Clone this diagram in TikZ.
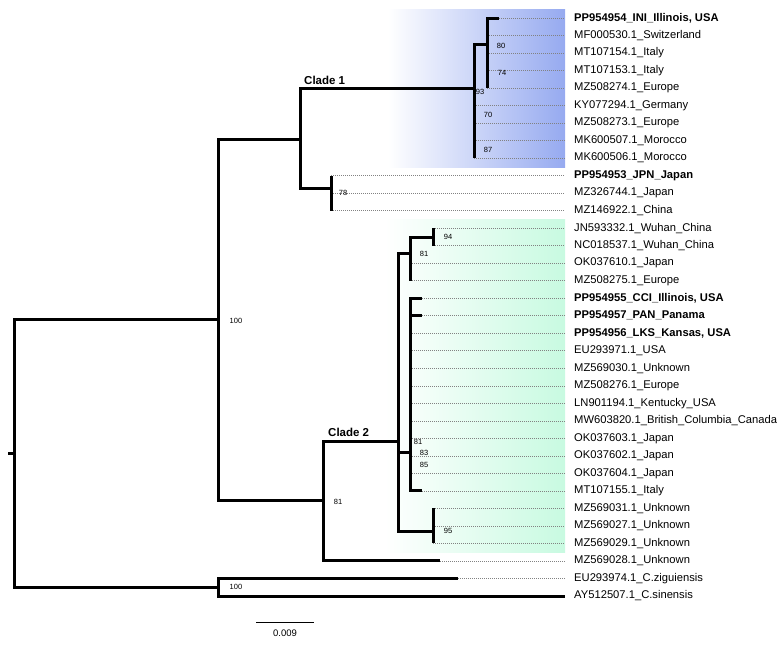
\documentclass[tikz,border=0pt]{standalone}
\usepackage{fontspec}
\setmainfont{Liberation Sans}
\definecolor{cladeblue}{RGB}{150,170,240}
\definecolor{cladegreen}{RGB}{200,250,225}
\definecolor{leadergray}{RGB}{130,130,130}
\tikzset{
  branch/.style={line width=3pt},
  leader/.style={leadergray, line width=0.6pt, dash pattern=on 1pt off 1pt, shorten >=9pt},
  tiplabel/.style={anchor=west, inner sep=0pt, font=\fontsize{11.2}{13}\selectfont},
  boot/.style={inner sep=0pt, font=\fontsize{7.5}{9}\selectfont},
  cladelabel/.style={anchor=west, inner sep=0pt, font=\fontsize{11.5}{13}\selectfont\bfseries}
}
\begin{document}
\begin{tikzpicture}[x=1pt, y=-1pt]
  \useasboundingbox (0,0) rectangle (781,646);
  % clade shading
  \shade[left color=white, right color=cladeblue]  (388,9)   rectangle (565,167);
  \shade[left color=white, right color=cladegreen] (385,219) rectangle (565,552);

  % tip labels
  \foreach \lab [count=\i] in {
      {\textbf{PP954954\_INI\_Illinois, USA}}, MF000530.1\_Switzerland,
      MT107154.1\_Italy, MT107153.1\_Italy, MZ508274.1\_Europe,
      KY077294.1\_Germany, MZ508273.1\_Europe, MK600507.1\_Morocco,
      MK600506.1\_Morocco, {\textbf{PP954953\_JPN\_Japan}}, MZ326744.1\_Japan,
      MZ146922.1\_China, JN593332.1\_Wuhan\_China, NC018537.1\_Wuhan\_China,
      OK037610.1\_Japan, MZ508275.1\_Europe, {\textbf{PP954955\_CCI\_Illinois, USA}},
      {\textbf{PP954957\_PAN\_Panama}}, {\textbf{PP954956\_LKS\_Kansas, USA}},
      EU293971.1\_USA, MZ569030.1\_Unknown, MZ508276.1\_Europe,
      LN901194.1\_Kentucky\_USA, MW603820.1\_British\_Columbia\_Canada,
      OK037603.1\_Japan, OK037602.1\_Japan, OK037604.1\_Japan, MT107155.1\_Italy,
      MZ569031.1\_Unknown, MZ569027.1\_Unknown, MZ569029.1\_Unknown,
      MZ569028.1\_Unknown, EU293974.1\_C.ziguiensis, AY512507.1\_C.sinensis}
    \node[tiplabel] (t\i) at (574,{18+17.515*(\i-1)}) {\lab};

  % branch ends of the tips
  \foreach \x [count=\i] in {499,487,487,487,487,474,474,474,474,331,331,331,
      433,433,410,410,422,422,410,410,410,410,410,410,410,410,410,422,
      433,433,433,440,458,565}
    \coordinate (e\i) at (\x,{18+17.515*(\i-1)});
  \foreach \i in {1,...,33}
    \draw[leader] (e\i) -- (t\i.west);

  % internal nodes
  \coordinate (r0)   at (8,453);
  \coordinate (r)    at (14,453);
  \coordinate (n100) at (218,319);
  \coordinate (cA)   at (300,139);
  \coordinate (c1)   at (474,88);
  \coordinate (c1a)  at (487,44);
  \coordinate (cJ)   at (331,188);
  \coordinate (c2)   at (323,500);
  \coordinate (c2a)  at (398,441);
  \coordinate (c2b)  at (410,253);
  \coordinate (c2c)  at (433,237);
  \coordinate (c2d)  at (410,452);
  \coordinate (c2e)  at (433,531);
  \coordinate (og)   at (218,587);

  % branches
  \draw[branch] (r0) -- (r);
  \draw[branch] (r) |- (n100);   \draw[branch] (r) |- (og);
  \draw[branch] (n100) |- (cA);  \draw[branch] (n100) |- (c2);
  \draw[branch] (cA) |- (c1);    \draw[branch] (cA) |- (cJ);
  \draw[branch] (c1) |- (c1a);   \draw[branch] (c1) |- (e9);
  \draw[branch] (c1a) |- (e1);   \draw[branch] (c1a) |- (e5);
  \draw[branch] (cJ) |- (e10);   \draw[branch] (cJ) |- (e12);
  \draw[branch] (c2) |- (c2a);   \draw[branch] (c2) |- (e32);
  \draw[branch] (c2a) |- (c2b);  \draw[branch] (c2a) |- (c2d);
  \draw[branch] (c2a) |- (c2e);
  \draw[branch] (c2b) |- (c2c);  \draw[branch] (c2b) |- (e16);
  \draw[branch] (c2c) |- (e13);  \draw[branch] (c2c) |- (e14);
  \draw[branch] (c2d) |- (e17);  \draw[branch] (c2d) |- (e18);
  \draw[branch] (c2d) |- (e28);
  \draw[branch] (c2e) |- (e29);  \draw[branch] (c2e) |- (e31);
  \draw[branch] (og) |- (e33);   \draw[branch] (og) |- (e34);

  % clade names
  \node[cladelabel] (clade1) at (304,80)  {Clade 1};
  \node[cladelabel] (clade2) at (328,432) {Clade 2};

  % bootstrap values
  \node[boot] (b100)  at (236,321) {100};
  \node[boot] (b100o) at (236,587) {100};
  \node[boot] (b93)   at (480,92)  {93};
  \node[boot] (b80)   at (501,46)  {80};
  \node[boot] (b74)   at (502,73)  {74};
  \node[boot] (b70)   at (488,115) {70};
  \node[boot] (b87)   at (488,150) {87};
  \node[boot] (b78)   at (343,193) {78};
  \node[boot] (b94)   at (448,237) {94};
  \node[boot] (b81a)  at (424,254) {81};
  \node[boot] (b81b)  at (418,442) {81};
  \node[boot] (b83)   at (424,453) {83};
  \node[boot] (b85)   at (424,465) {85};
  \node[boot] (b95)   at (448,531) {95};
  \node[boot] (b81c)  at (338,502) {81};

  % scale bar
  \coordinate (s0) at (256,622);
  \coordinate (s1) at (314,622);
  \draw[line width=1pt] (s0) -- (s1);
  \node[inner sep=0pt, font=\fontsize{9.5}{11}\selectfont] (sbar) at (285,633) {0.009};
\end{tikzpicture}
\end{document}
